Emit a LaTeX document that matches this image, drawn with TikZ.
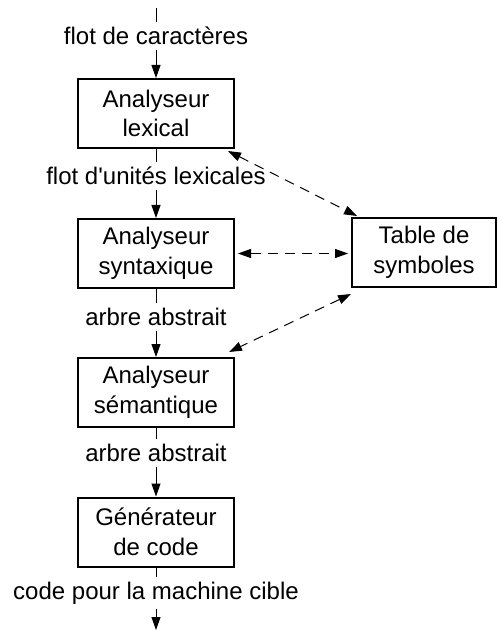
\documentclass[tikz,border=0pt]{standalone}
\usepackage{fontspec}
\setmainfont{Liberation Sans}
\usetikzlibrary{arrows.meta,positioning}

\begin{document}
\begin{tikzpicture}[x=0.5pt, y=-0.5pt,
            every node/.style={font=\fontsize{12}{14.8}\selectfont},
            phase/.style={rectangle, draw=black, line width=1pt, minimum width=78pt,
            minimum height=34.5pt, align=center, inner sep=0pt},
            flow/.style={inner sep=2.3pt},
            pipe/.style={line width=0.5pt, -{Triangle[length=6.5pt,width=4.5pt]}},
            lookup/.style={line width=0.5pt, dash pattern=on 5pt off 3.5pt,
            {Triangle[length=6.5pt,width=4.5pt]}-{Triangle[length=6.5pt,width=4.5pt]}}]
            \useasboundingbox (0,0) rectangle (498,630);
            % chaine des phases
            \coordinate (src) at (156,8);
            \node (flow0) [flow] at (156,36) {flot de caractères};
            \node (lexical) [phase] at (156,113.5) {Analyseur\\lexical};
            \node (flow1) [flow] at (156,176) {flot d\textquotesingle unités lexicales};
            \node (syntax) [phase] at (156,253.5) {Analyseur\\syntaxique};
            \node (flow2) [flow] at (156,317) {arbre abstrait};
            \node (semantic) [phase] at (156,392.5) {Analyseur\\sémantique};
            \node (flow3) [flow] at (156,453) {arbre abstrait};
            \node (codegen) [phase] at (156,532) {Générateur\\de code};
            \node (flow4) [flow] at (156,593) {code pour la machine cible};
            \coordinate (sink) at (156,630);
            \node (symtab) [phase, minimum width=72pt] at (424,252.5) {Table de\\symboles};

            \draw [line width=0.5pt] (src) -- (flow0);
            \draw [pipe] (flow0) -- (lexical);
            \draw [line width=0.5pt] (lexical) -- (flow1);
            \draw [pipe] (flow1) -- (syntax);
            \draw [line width=0.5pt] (syntax) -- (flow2);
            \draw [pipe] (flow2) -- (semantic);
            \draw [line width=0.5pt] (semantic) -- (flow3);
            \draw [pipe] (flow3) -- (codegen);
            \draw [line width=0.5pt] (codegen) -- (flow4);
            \draw [pipe] (flow4) -- (sink);

            % acces a la table
            \draw [lookup] ([xshift=-3.5pt,yshift=-1pt]lexical.south east)
                -- ([xshift=3pt,yshift=0.5pt]symtab.north west);
            \draw [lookup, shorten <=1.5pt, shorten >=1.5pt] (syntax.east)
                -- (syntax.east -| symtab.west);
            \draw [lookup] ([yshift=-3pt]symtab.south west)
                -- ([xshift=-3pt,yshift=2.5pt]semantic.north east);
        \end{tikzpicture}
\end{document}
